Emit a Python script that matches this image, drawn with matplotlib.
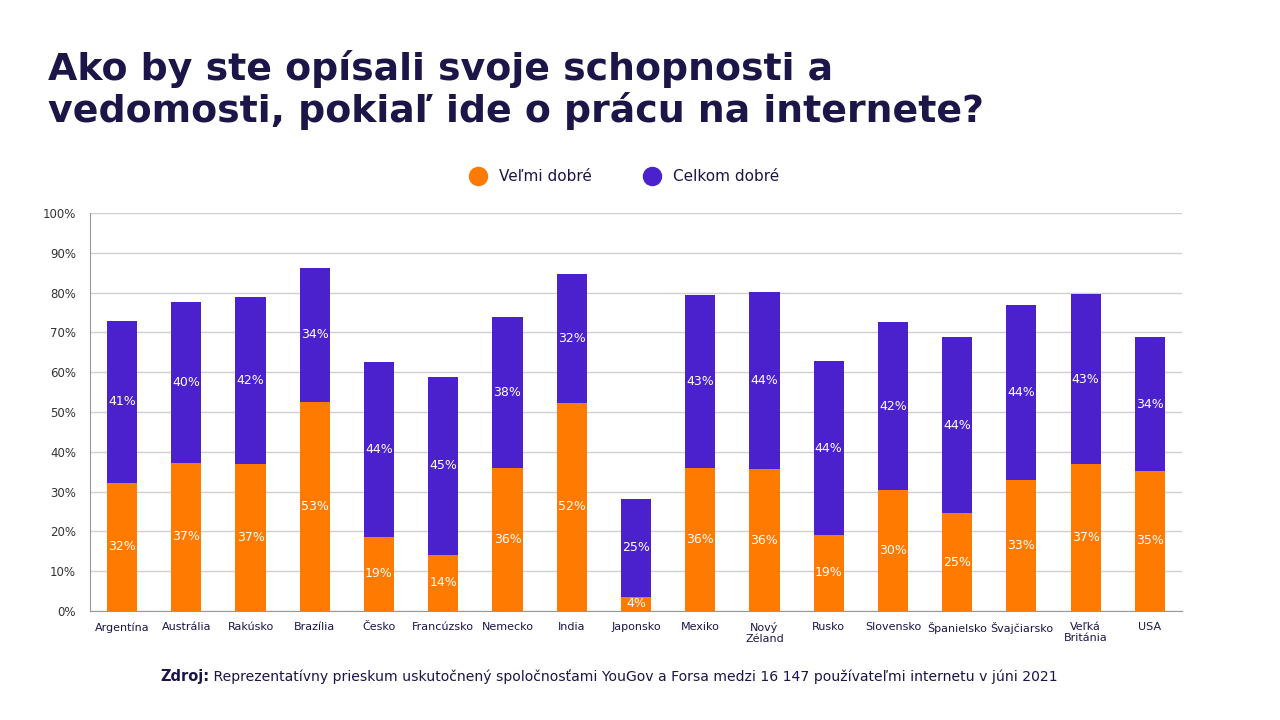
import matplotlib
matplotlib.use("Agg")
import matplotlib.pyplot as plt
from matplotlib.lines import Line2D
import numpy as np

# data (share of respondents, %)
countries = ["Argentína", "Austrália", "Rakúsko", "Brazília", "Česko", "Francúzsko",
             "Nemecko", "India", "Japonsko", "Mexiko", "Nový\nZéland", "Rusko",
             "Slovensko", "Španielsko", "Švajčiarsko", "Veľká\nBritánia", "USA"]
velmi_dobre = [32.2, 37.2, 36.9, 52.6, 18.7, 14.1, 36.0, 52.3, 3.6, 36.0, 35.6, 19.1,
               30.4, 24.5, 32.9, 36.9, 35.2]
celkom_dobre = [40.7, 40.4, 42.0, 33.6, 43.9, 44.7, 37.9, 32.4, 24.5, 43.4, 44.5, 43.7,
                42.2, 44.3, 44.0, 42.7, 33.6]
labels_velmi = ["32%", "37%", "37%", "53%", "19%", "14%", "36%", "52%", "4%", "36%", "36%",
                "19%", "30%", "25%", "33%", "37%", "35%"]
labels_celkom = ["41%", "40%", "42%", "34%", "44%", "45%", "38%", "32%", "25%", "43%", "44%",
                 "44%", "42%", "44%", "44%", "43%", "34%"]
series_names = ["Veľmi dobré", "Celkom dobré"]
yticks = [0, 10, 20, 30, 40, 50, 60, 70, 80, 90, 100]

ORANGE = "#FF7A00"
PURPLE = "#4B21CD"
NAVY = "#1B1548"

fig = plt.figure(figsize=(12.8, 7.2), dpi=100)
ax = fig.add_axes([0.0703, 0.1514, 0.8531, 0.5528])

x = np.arange(len(countries))
b1 = ax.bar(x, velmi_dobre, width=0.47, color=ORANGE, zorder=3)
b2 = ax.bar(x, celkom_dobre, width=0.47, bottom=velmi_dobre, color=PURPLE, zorder=3)
ax.bar_label(b1, labels=labels_velmi, label_type="center", color="white", fontsize=9)
ax.bar_label(b2, labels=labels_celkom, label_type="center", color="white", fontsize=9)

ax.set_xlim(-0.5, len(countries) - 0.5)
ax.set_ylim(0, 100)
ax.set_yticks(yticks)
ax.set_yticklabels([f"{t}%" for t in yticks], fontsize=8.5, color="#333333")
ax.set_xticks(x)
ax.set_xticklabels(countries, fontsize=8, color=NAVY, linespacing=1.1)
ax.tick_params(length=0, pad=8)
ax.tick_params(axis="y", pad=10)
ax.grid(axis="y", color="#D0D0D0", linewidth=1, zorder=0)
for s in ["top", "right"]:
    ax.spines[s].set_visible(False)
for s in ["left", "bottom"]:
    ax.spines[s].set_color("#999999")

# legend with round markers
handles = [Line2D([], [], marker="o", linestyle="", markersize=13, color=c)
           for c in [ORANGE, PURPLE]]
leg = fig.legend(handles=handles, labels=series_names, loc="center",
                 bbox_to_anchor=(0.488, 0.755), ncol=2, frameon=False, fontsize=11,
                 handlelength=1.0, columnspacing=3.4, handletextpad=0.9)
for t in leg.get_texts():
    t.set_color(NAVY)

fig.text(0.0375, 0.93, "Ako by ste opísali svoje schopnosti a\nvedomosti, pokiaľ ide o prácu na internete?",
         fontsize=27.3, fontweight="bold", color=NAVY, va="top", ha="left", linespacing=1.12)

src1 = fig.text(0.125, 0.054, "Zdroj:", fontsize=10.5, fontweight="bold", color=NAVY,
                ha="left", va="baseline")
ax.annotate(" Reprezentatívny prieskum uskutočnený spoločnosťami YouGov a Forsa medzi 16 147 "
            "používateľmi internetu v júni 2021",
            xy=(1, 0), xycoords=src1, va="bottom", ha="left", fontsize=10.1, color=NAVY,
            annotation_clip=False)

fig.savefig("out.png", dpi=100)
